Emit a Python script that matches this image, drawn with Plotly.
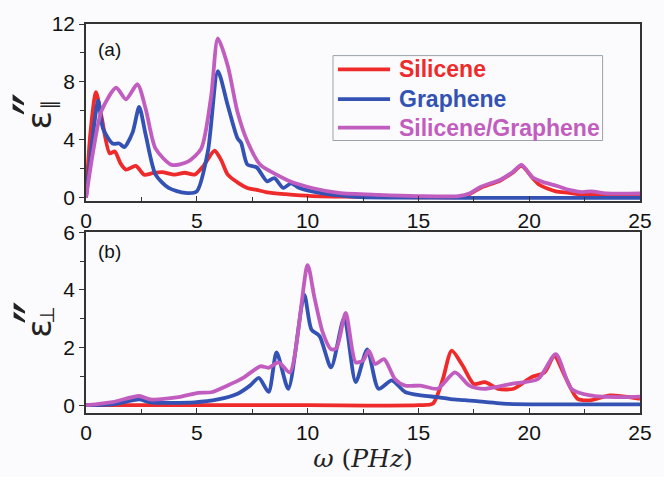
import plotly.graph_objects as go

# ---------------- data ----------------
# Panel (a): eps''_parallel
a_sil_x = [0, 0.2, 0.45, 0.7, 1.07, 1.3, 1.55, 1.8, 2.25, 2.62, 3.0, 3.43, 4.0, 4.46, 4.9, 5.3, 5.8, 6.1, 6.4, 6.9, 7.28, 7.7, 8.17, 9.0, 10.2, 11.5, 13.0, 15.0, 16.9, 17.3, 17.8, 18.7, 19.27, 19.65, 20.16, 20.46, 21.2, 21.8, 22.5, 23.2, 24.0, 25.0]
a_sil_y = [0, 4.5, 7.3, 5.6, 3.07, 3.2, 2.4, 1.95, 2.2, 1.6, 1.7, 1.77, 1.6, 1.73, 1.6, 2.2, 3.25, 2.6, 1.6, 1.0, 0.68, 0.55, 0.38, 0.25, 0.12, 0.08, 0.05, 0.04, 0.06, 0.25, 0.68, 1.2, 1.75, 2.2, 1.36, 0.9, 0.45, 0.35, 0.2, 0.25, 0.25, 0.25]

a_gra_x = [0, 0.25, 0.55, 0.77, 1.2, 1.5, 1.73, 2.1, 2.4, 2.7, 3.14, 3.73, 4.47, 5.0, 5.5, 5.95, 6.4, 6.84, 7.0, 7.28, 7.7, 8.17, 8.5, 8.9, 9.25, 9.6, 10.2, 11.0, 12.4, 14.0, 17.0, 20.0, 25.0]
a_gra_y = [0, 3.5, 6.7, 4.77, 3.75, 3.75, 3.5, 4.5, 6.27, 4.3, 1.6, 0.68, 0.34, 0.45, 3.2, 8.75, 6.36, 4.1, 3.8, 2.3, 2.1, 1.14, 1.36, 0.68, 1.0, 0.7, 0.45, 0.23, 0.05, 0.02, 0.0, 0.0, 0.0]

a_mix_x = [0, 0.3, 0.7, 1.36, 1.8, 2.32, 2.7, 3.14, 3.87, 4.6, 5.2, 5.65, 5.95, 6.4, 6.84, 7.28, 7.87, 8.6, 9.2, 10.2, 11.4, 13.2, 15.0, 16.8, 17.3, 17.8, 18.7, 19.27, 19.65, 20.16, 20.6, 21.3, 21.8, 22.4, 22.8, 23.5, 25.0]
a_mix_y = [0, 3.0, 6.0, 7.6, 6.8, 7.84, 6.1, 3.4, 2.27, 2.5, 3.4, 7.04, 11.0, 9.1, 5.9, 3.9, 2.27, 1.6, 1.14, 0.68, 0.34, 0.2, 0.12, 0.12, 0.3, 0.75, 1.25, 1.8, 2.27, 1.4, 1.1, 0.8, 0.55, 0.4, 0.45, 0.3, 0.3]

# Panel (b): eps''_perp
b_sil_x = [0, 5.0, 10.0, 15.0, 15.66, 16.1, 16.5, 17.0, 17.5, 18.0, 18.6, 19.3, 20.1, 20.7, 21.13, 21.6, 22.17, 22.75, 23.65, 24.8, 25.0]
b_sil_y = [0, 0, 0, 0, 0.06, 0.9, 1.89, 1.37, 0.74, 0.8, 0.57, 0.57, 0.97, 1.14, 1.71, 1.03, 0.23, 0.17, 0.34, 0.25, 0.22]

b_gra_x = [0, 1.2, 2.4, 2.9, 4.9, 5.95, 6.84, 7.4, 7.8, 8.24, 8.6, 9.13, 9.85, 10.17, 10.54, 11.06, 11.65, 12.17, 12.69, 13.2, 13.8, 14.4, 15.13, 15.87, 16.6, 17.1, 19.0, 21.0, 25.0]
b_gra_y = [0, 0.03, 0.2, 0.1, 0.1, 0.2, 0.4, 0.68, 0.95, 0.46, 1.83, 0.57, 3.83, 2.63, 2.4, 1.31, 3.03, 0.8, 1.94, 0.57, 0.86, 0.46, 0.34, 0.28, 0.2, 0.18, 0.05, 0.03, 0.03]

b_mix_x = [0, 1.2, 2.4, 2.9, 4.17, 5.06, 5.65, 6.54, 7.13, 7.87, 8.24, 8.69, 9.2, 10.0, 10.3, 10.69, 11.06, 11.3, 11.72, 12.17, 12.5, 12.76, 13.05, 13.45, 13.94, 14.4, 15.1, 15.87, 16.65, 17.3, 18.0, 19.2, 20.4, 21.2, 21.9, 22.75, 24.2, 25.0]
b_mix_y = [0, 0.11, 0.32, 0.2, 0.28, 0.43, 0.45, 0.74, 0.97, 1.35, 1.3, 1.49, 1.14, 4.86, 3.77, 2.51, 1.94, 1.98, 3.2, 1.49, 1.55, 1.89, 1.43, 1.6, 0.91, 0.68, 0.68, 0.57, 1.14, 0.68, 0.57, 0.74, 0.91, 1.77, 0.57, 0.34, 0.28, 0.3]

names = ["Silicene", "Graphene", "Silicene/Graphene"]
colors = ["#ee2a2a", "#3352b4", "#c25dc0"]

x_ticks = [0, 5, 10, 15, 20, 25]
a_ticks = [0, 4, 8, 12]
b_ticks = [0, 2, 4, 6]

fig = go.Figure()
panel_a = [(a_sil_x, a_sil_y), (a_gra_x, a_gra_y), (a_mix_x, a_mix_y)]
panel_b = [(b_sil_x, b_sil_y), (b_gra_x, b_gra_y), (b_mix_x, b_mix_y)]

for i, (xs, ys) in enumerate(panel_a):
    fig.add_trace(go.Scatter(
        x=xs, y=ys, mode="lines", xaxis="x", yaxis="y", name=names[i],
        line=dict(color=colors[i], width=3.8, shape="spline", smoothing=0.7),
        showlegend=False))
for i, (xs, ys) in enumerate(panel_b):
    fig.add_trace(go.Scatter(
        x=xs, y=ys, mode="lines", xaxis="x2", yaxis="y2", name=names[i],
        line=dict(color=colors[i], width=3.8, shape="spline", smoothing=0.7),
        showlegend=False))

axis_common = dict(showline=True, linecolor="#333333", linewidth=1.5, mirror=True,
                   showgrid=False, zeroline=False,
                   tickfont=dict(family="Liberation Sans, Arial", size=21, color="#111"))

# helper: page pixel -> paper fraction (plot area 86..649 x, 24..418 y)
def px(p):
    return (p - 86) / 563.0

def py(p):
    return (418 - p) / 394.0

annotations = [
    dict(text="(a)", xref="paper", yref="paper", x=0.018, y=0.935,
         xanchor="left", yanchor="middle", showarrow=False,
         font=dict(family="Liberation Sans, Arial", size=19, color="#111")),
    dict(text="(b)", xref="paper", yref="paper", x=0.018, y=0.415,
         xanchor="left", yanchor="middle", showarrow=False,
         font=dict(family="Liberation Sans, Arial", size=19, color="#111")),
]

# y-axis titles built from pieces (eps, double prime, subscript symbol), rotated
def ytitle(cx, cy, sub, sub_dx, sub_dy):
    out = []
    out.append(dict(text="ε", xref="paper", yref="paper", x=px(cx), y=py(cy),
                    xanchor="center", yanchor="middle", showarrow=False, textangle=-90,
                    font=dict(family="DejaVu Sans", size=34, color="#222")))
    out.append(dict(text="″", xref="paper", yref="paper", x=px(cx - 2), y=py(cy - 17),
                    xanchor="center", yanchor="middle", showarrow=False, textangle=-90,
                    font=dict(family="DejaVu Sans", size=62, color="#222")))
    out.append(dict(text=sub, xref="paper", yref="paper", x=px(cx + sub_dx), y=py(cy + sub_dy),
                    xanchor="center", yanchor="middle", showarrow=False, textangle=-90,
                    font=dict(family="DejaVu Sans", size=20, color="#222")))
    return out

annotations += ytitle(38, 122, "∥", 10, -16)
annotations += ytitle(38, 333, "⊥", 9, -14)

# legend drawn as box + line samples + colored bold labels
shapes = [dict(type="rect", xref="paper", yref="paper",
               x0=px(337), x1=px(611), y0=py(142), y1=py(56),
               line=dict(color="#9aa3aa", width=1), fillcolor="rgba(0,0,0,0)")]
rows = [70, 100, 129]
for i in range(3):
    shapes.append(dict(type="line", xref="paper", yref="paper",
                       x0=px(342), x1=px(395), y0=py(rows[i]), y1=py(rows[i]),
                       line=dict(color=colors[i], width=3.8)))
    annotations.append(dict(text="<b>%s</b>" % names[i], xref="paper", yref="paper",
                            x=px(402), y=py(rows[i]), xanchor="left", yanchor="middle",
                            showarrow=False,
                            font=dict(family="Liberation Sans, Arial", size=23, color=colors[i])))

fig.update_layout(
    width=664, height=477,
    margin=dict(l=86, r=15, t=24, b=59),
    paper_bgcolor="#fbfbfd", plot_bgcolor="#fbfbfd",
    xaxis=dict(domain=[0, 1], range=[0, 25], anchor="y", tickvals=x_ticks,
               ticks="inside", ticklen=5, tickcolor="#333",
               minor=dict(dtick=2.5, ticks="inside", ticklen=4, tickcolor="#333"),
               **axis_common),
    yaxis=dict(domain=[0.5457, 1.0], range=[-0.2, 12], anchor="x", tickvals=a_ticks,
               ticks="outside", ticklen=5, tickcolor="#333",
               minor=dict(tickvals=[2, 6, 10], ticks="outside", ticklen=4, tickcolor="#333"),
               **axis_common),
    xaxis2=dict(domain=[0, 1], range=[0, 25], anchor="y2", tickvals=x_ticks,
                ticks="inside", ticklen=5, tickcolor="#333",
                minor=dict(dtick=2.5, ticks="inside", ticklen=4, tickcolor="#333"),
                title=dict(text="<i>ω</i> (<i>PHz</i>)", standoff=4,
                           font=dict(family="DejaVu Serif", size=25, color="#222")),
                **axis_common),
    yaxis2=dict(domain=[0, 0.4645], range=[-0.27, 6], anchor="x2", tickvals=b_ticks,
                ticks="outside", ticklen=5, tickcolor="#333",
                minor=dict(tickvals=[1, 3, 5], ticks="outside", ticklen=4, tickcolor="#333"),
                **axis_common),
    showlegend=False,
    shapes=shapes,
    annotations=annotations,
)

fig.write_html("out.html")
